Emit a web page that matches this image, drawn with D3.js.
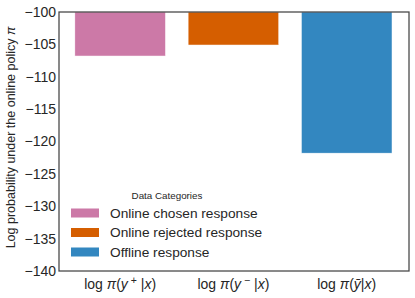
<!DOCTYPE html>
<html>
<head>
<meta charset="utf-8">
<script src="https://cdn.jsdelivr.net/npm/d3@7"></script>
<style>
  body { margin: 0; background: #fff; }
  text { font-family: "Liberation Sans", Arial, sans-serif; fill: #262626; }
</style>
</head>
<body>
<div id="chart"></div>
<script>
const categories = ["chosen", "rejected", "offline"];
const values = [-106.8, -105.1, -121.8];
const colors = ["#cc79a7", "#d55e00", "#3387c0"];
const legendLabels = ["Online chosen response", "Online rejected response", "Offline response"];
const yTicks = [-100, -105, -110, -115, -120, -125, -130, -135, -140];

const width = 415;
const height = 298;
const margin = {top: 12, right: 6, bottom: 27, left: 59};

const svg = d3.select("#chart").append("svg")
    .attr("width", width)
    .attr("height", height);

const x = d3.scaleLinear()
    .domain([-0.54, 2.55])
    .range([margin.left, width - margin.right]);

const y = d3.scaleLinear()
    .domain([-100, -140])
    .range([margin.top, height - margin.bottom]);

const barW = x(0.8) - x(0);

// bars
svg.selectAll(".bar")
    .data(values)
    .enter().append("rect")
    .attr("class", "bar")
    .attr("x", (d, i) => x(i) - barW / 2)
    .attr("y", y(-100))
    .attr("width", barW)
    .attr("height", d => y(d) - y(-100))
    .attr("fill", (d, i) => colors[i])
    .attr("stroke", "#fff")
    .attr("stroke-width", 0.5);

// frame
svg.append("rect")
    .attr("x", margin.left)
    .attr("y", margin.top)
    .attr("width", width - margin.right - margin.left)
    .attr("height", height - margin.bottom - margin.top)
    .attr("fill", "none")
    .attr("stroke", "#444")
    .attr("stroke-width", 1.25);

// y tick labels
svg.selectAll(".ytick")
    .data(yTicks)
    .enter().append("text")
    .attr("class", "ytick")
    .attr("x", margin.left - 3)
    .attr("y", d => y(d))
    .attr("dy", "0.35em")
    .attr("text-anchor", "end")
    .style("font-size", "14px")
    .text(d => "\u2212" + Math.abs(d));

// y axis label
svg.append("text")
    .attr("transform", `translate(15,${(margin.top + height - margin.bottom) / 2 - 4}) rotate(-90)`)
    .attr("text-anchor", "middle")
    .style("font-size", "12.5px")
    .html('Log probability under the online policy <tspan font-style="italic">π</tspan>');

// x tick labels (math)
const xLabels = svg.selectAll(".xtick")
    .data(categories)
    .enter().append("text")
    .attr("class", "xtick")
    .attr("x", (d, i) => x(i))
    .attr("y", 289)
    .attr("text-anchor", "middle")
    .style("font-size", "14px");

xLabels.each(function(d) {
    const t = d3.select(this);
    t.append("tspan").text("log ");
    t.append("tspan").attr("font-style", "italic").text("π");
    t.append("tspan").text("(");
    if (d === "offline") {
        t.append("tspan").attr("font-style", "italic").text("ȳ");
    } else {
        t.append("tspan").attr("font-style", "italic").text("y");
        t.append("tspan").attr("dy", -5).style("font-size", "10.5px").text(d === "chosen" ? " +" : " \u2212");
        t.append("tspan").attr("dy", 5).text(" |");
    }
    if (d === "offline") t.append("tspan").text("|");
    t.append("tspan").attr("font-style", "italic").text("x");
    t.append("tspan").text(")");
});

// legend
const legend = svg.append("g").attr("transform", "translate(71,196)");
legend.append("text")
    .attr("x", 96)
    .attr("y", 0)
    .attr("dy", "0.35em")
    .attr("text-anchor", "middle")
    .style("font-size", "9.8px")
    .text("Data Categories");

const items = legend.selectAll(".item")
    .data(legendLabels)
    .enter().append("g")
    .attr("class", "item")
    .attr("transform", (d, i) => `translate(0,${17 + i * 19.5})`);

items.append("rect")
    .attr("x", 0)
    .attr("y", -4.5)
    .attr("width", 28)
    .attr("height", 9)
    .attr("fill", (d, i) => colors[i]);

items.append("text")
    .attr("x", 39)
    .attr("y", 0)
    .attr("dy", "0.35em")
    .style("font-size", "13.7px")
    .text(d => d);
</script>
</body>
</html>
